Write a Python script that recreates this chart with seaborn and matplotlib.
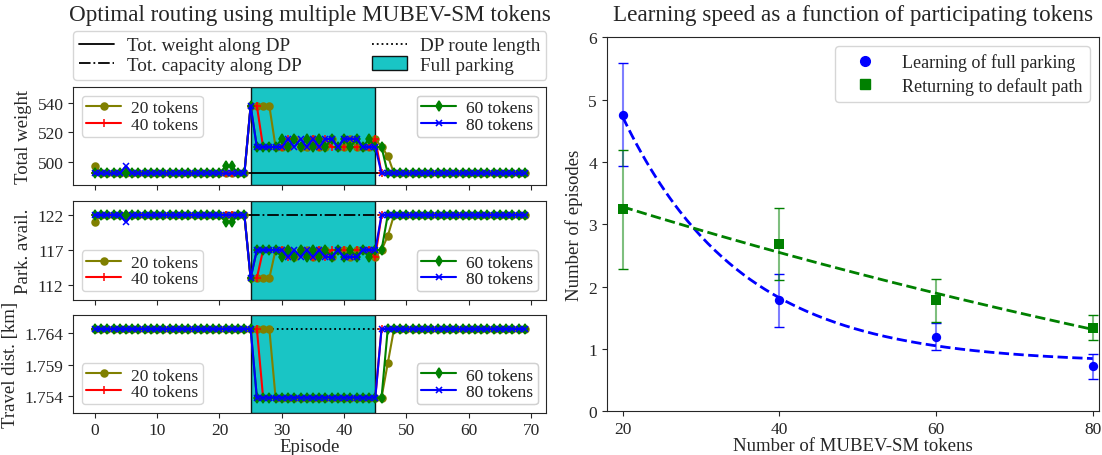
import numpy as np
import pandas as pd
import matplotlib
matplotlib.use("Agg")
import matplotlib.pyplot as plt
from matplotlib.lines import Line2D
from matplotlib.patches import Patch
import seaborn as sns

# ---- left column: episode traces for the four token counts ----
episodes = list(range(70))
token_labels = ['20 tokens', '40 tokens', '60 tokens', '80 tokens']
token_colors = ['olive', 'red', 'green', 'blue']
token_markers = ['o', '+', 'd', 'x']
token_msize = [5, 6, 5.5, 5]

full_parking_start = 25
full_parking_end = 45

dp_weight = 492
dp_capacity = 122
dp_length = 1.7647

weight_20 = [497] + [492]*24 + [538, 538, 538, 538, 510, 510, 510, 515.5, 510, 510, 515.5, 510,
                                510, 515.5, 510, 510, 515.5, 510, 510, 510, 515.5, 510, 504] + [492]*22
weight_40 = [492]*25 + [538, 538, 510, 510, 510, 510, 515.5, 515.5, 510, 515.5, 515.5, 510, 515.5,
                        510, 510, 510, 510, 510, 510, 510, 515.5] + [492]*24
weight_60 = [492]*21 + [497, 497, 492, 492] + [538, 510, 510, 510, 510, 515.5, 510, 515.5, 510, 515.5,
                                               510, 515.5, 510, 515.5, 510, 515.5, 510, 515.5, 510,
                                               515.5, 510, 510] + [492]*23
weight_80 = [492]*5 + [497] + [492]*19 + [538, 510, 510, 510, 510, 510, 515.5, 510, 515.5, 510, 515.5,
                                          510, 515.5, 515.5, 510, 515.5, 515.5, 515.5, 510, 510,
                                          510] + [492]*24

park_20 = [121] + [122]*24 + [113, 113, 113, 113, 117, 117, 117, 116, 117, 117, 116, 117, 117, 116,
                              117, 117, 116, 117, 117, 117, 116, 117, 119] + [122]*22
park_40 = [122]*25 + [113, 113, 117, 117, 117, 117, 116, 116, 117, 116, 116, 117, 116, 117, 117, 117,
                      117, 117, 117, 117, 116] + [122]*24
park_60 = [122]*21 + [121, 121, 122, 122] + [113, 117, 117, 117, 117, 116, 117, 116, 117, 116, 117,
                                             116, 117, 116, 117, 116, 117, 116, 117, 116, 117,
                                             117] + [122]*23
park_80 = [122]*5 + [121] + [122]*19 + [113, 117, 117, 117, 117, 117, 116, 117, 116, 117, 116, 117,
                                        116, 116, 117, 116, 116, 116, 117, 117, 117] + [122]*24

dist_20 = [1.7647]*29 + [1.7537]*18 + [1.7592] + [1.7647]*22
dist_40 = [1.7647]*27 + [1.7537]*19 + [1.7647]*24
dist_60 = [1.7647]*26 + [1.7537]*21 + [1.7647]*23
dist_80 = [1.7647]*26 + [1.7537]*20 + [1.7647]*24

# ---- right panel: learning speed ----
tokens = [20, 40, 60, 80]
learn_mean = [4.76, 1.78, 1.20, 0.72]
learn_err = [0.83, 0.43, 0.22, 0.20]
return_mean = [3.24, 2.68, 1.78, 1.34]
return_err = [0.95, 0.58, 0.35, 0.20]
# exponential fits a*exp(-b*(n-20))+c
learn_fit = (3.948, 0.0663, 0.772)
return_fit = (6.66, 0.00583, -3.38)

sns.set_style('ticks')
plt.rcParams['font.family'] = ['Liberation Serif', 'DejaVu Serif']

fig = plt.figure(figsize=(11.02, 4.56), dpi=100)
W, H = 1102, 456


def px_axes(x0, y0, x1, y1):
    return fig.add_axes([x0 / W, 1 - y1 / H, (x1 - x0) / W, (y1 - y0) / H])


ax_w = px_axes(73.3, 88.3, 546.4, 186)
ax_p = px_axes(73.3, 202.3, 546.4, 301)
ax_d = px_axes(73.3, 315.7, 546.4, 413.7)
ax_r = px_axes(606.7, 38.3, 1099, 412.3)

panels = [
    (ax_w, [weight_20, weight_40, weight_60, weight_80], dp_weight, '-', 'Total weight', (484.1, 550.7),
     [500, 520, 540], ['upper left', 'upper right']),
    (ax_p, [park_20, park_40, park_60, park_80], dp_capacity, '-.', 'Park. avail.', (109.86, 123.96),
     [112, 117, 122], ['lower left', 'lower right']),
    (ax_d, [dist_20, dist_40, dist_60, dist_80], dp_length, ':', 'Travel dist. [km]', (1.75128, 1.76698),
     [1.754, 1.759, 1.764], ['lower left', 'lower right']),
]

token_handles = [Line2D([], [], color=c, marker=m, markersize=s, markeredgecolor=c,
                        markeredgewidth=1.1, linewidth=1.5)
                 for c, m, s in zip(token_colors, token_markers, token_msize)]

for ax, series, dp_val, dp_ls, ylab, ylim, yticks, locs in panels:
    ax.axvspan(full_parking_start, full_parking_end, facecolor='c', alpha=0.9,
               edgecolor='k', linewidth=1, zorder=0)
    ax.hlines(dp_val, episodes[0], episodes[-1], colors='k', linestyles=dp_ls, linewidth=1.3, zorder=1)
    for vals, col, mk, ms in zip(series, token_colors, token_markers, token_msize):
        df = pd.DataFrame({'episode': episodes, 'value': vals})
        sns.lineplot(data=df, x='episode', y='value', ax=ax, color=col, marker=mk,
                     markersize=ms, markeredgecolor=col, markerfacecolor=col,
                     markeredgewidth=1.1, linewidth=1.5, legend=False, zorder=2)
    for hs, labs, loc in [(token_handles[:2], token_labels[:2], locs[0]),
                          (token_handles[2:], token_labels[2:], locs[1])]:
        leg = ax.legend(hs, labs, loc=loc, fontsize=12.5, framealpha=0.8,
                        labelspacing=0.0, borderpad=0.25, handletextpad=0.6)
        ax.add_artist(leg)
    ax.set_ylim(*ylim)
    ax.set_yticks(yticks)
    ax.set_ylabel(ylab, fontsize=13.5)
    ax.set_xlabel('')
    ax.set_xticks(range(0, 71, 10))
    ax.tick_params(labelsize=12.5)
    ax.set_xlim(-3.45, 72.45)

ax_w.tick_params(labelbottom=False)
ax_p.tick_params(labelbottom=False)
ax_d.set_xlabel('Episode', fontsize=13.5, labelpad=0)
fig.text((73.3 + 546.4) / 2 / W, 1 - 16 / H, 'Optimal routing using multiple MUBEV-SM tokens',
         fontsize=16.7, ha='center', va='center')

top_handles = [
    Line2D([], [], color='k', linestyle='-', linewidth=1.3),
    Line2D([], [], color='k', linestyle='-.', linewidth=1.3),
    Line2D([], [], color='k', linestyle=':', linewidth=1.3),
    Patch(facecolor='c', alpha=0.9, edgecolor='k'),
]
top_labels = ['Tot. weight along DP', 'Tot. capacity along DP', 'DP route length', 'Full parking']
fig.legend(top_handles, top_labels, loc='upper left',
           bbox_to_anchor=(73.3 / W, 1 - 32.3 / H, (546.4 - 73.3) / W, 0.0),
           mode='expand', ncol=2, borderaxespad=0, fontsize=13.8, labelspacing=0.1,
           borderpad=0.3, handlelength=1.8, handletextpad=0.7)

# ---- right panel ----
n_fine = np.linspace(20, 80, 200)
fit_df = pd.DataFrame({
    'n': np.concatenate([n_fine, n_fine]),
    'y': np.concatenate([learn_fit[0] * np.exp(-learn_fit[1] * (n_fine - 20)) + learn_fit[2],
                         return_fit[0] * np.exp(-return_fit[1] * (n_fine - 20)) + return_fit[2]]),
    'kind': ['learn'] * len(n_fine) + ['return'] * len(n_fine),
})
sns.lineplot(data=fit_df, x='n', y='y', hue='kind', palette={'learn': 'blue', 'return': 'green'},
             ax=ax_r, linestyle='--', linewidth=2, legend=False)

for mean, err, col, mk in [(learn_mean, learn_err, 'blue', 'o'), (return_mean, return_err, 'green', 's')]:
    eb = ax_r.errorbar(tokens, mean, yerr=err, fmt='none', ecolor=col, capsize=3.5,
                       elinewidth=1.5, capthick=1)
    eb[2][0].set_alpha(0.5)
    sns.scatterplot(x=tokens, y=mean, ax=ax_r, color=col, marker=mk, s=45,
                    edgecolor=col, linewidth=0, zorder=3)

ax_r.set_xlim(17.95, 80.8)
ax_r.set_ylim(0, 6)
ax_r.set_xticks(tokens)
ax_r.tick_params(labelsize=12.5)
ax_r.set_xlabel('Number of MUBEV-SM tokens', fontsize=13.5, labelpad=0)
ax_r.set_ylabel('Number of episodes', fontsize=13.5)
fig.text((606.7 + 1099) / 2 / W, 1 - 16 / H, 'Learning speed as a function of participating tokens',
         fontsize=16.7, ha='center', va='center')
r_handles = [Line2D([], [], linestyle='none', marker='o', color='blue', markersize=7),
             Line2D([], [], linestyle='none', marker='s', color='green', markersize=7)]
ax_r.legend(r_handles, ['Learning of full parking', 'Returning to default path'],
            loc='upper right', fontsize=13, handlelength=2.5, labelspacing=0.3)

fig.savefig('out.png', dpi=100)
